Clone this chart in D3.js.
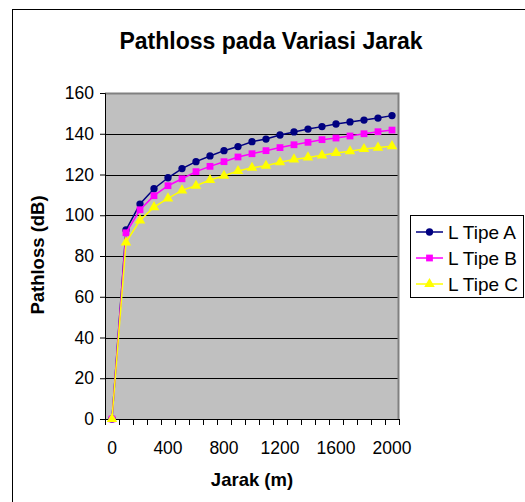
<!DOCTYPE html>
<html>
<head>
<meta charset="utf-8">
<script src="https://cdn.jsdelivr.net/npm/d3@7"></script>
<style>
  body { margin: 0; background: #fff; }
  text { font-family: "Liberation Sans", Arial, sans-serif; }
</style>
</head>
<body>
<div id="chart"></div>
<script>
// jarak (m)
const jarak = [0, 100, 200, 300, 400, 500, 600, 700, 800, 900, 1000,
               1100, 1200, 1300, 1400, 1500, 1600, 1700, 1800, 1900, 2000];
// pathloss (dB) per tipe
const tipeA = [0, 92.8, 105.5, 113.0, 118.4, 122.9, 126.3, 129.1, 131.7, 133.7, 136.1,
               137.4, 139.4, 140.9, 142.3, 143.5, 144.8, 145.8, 146.7, 147.7, 148.9];
const tipeB = [0, 91.4, 102.7, 109.6, 114.5, 117.9, 121.4, 124.0, 126.3, 128.6, 130.2,
               131.7, 133.2, 134.6, 135.8, 137.1, 137.9, 138.9, 140.0, 141.0, 141.8];
const tipeC = [0, 86.7, 97.5, 104.0, 108.3, 112.2, 114.5, 117.3, 119.4, 121.7, 123.3,
               124.3, 126.0, 127.4, 128.4, 129.4, 130.6, 131.4, 132.5, 133.2, 133.9];
const yTicks = [0, 20, 40, 60, 80, 100, 120, 140, 160];
const xLabels = [0, 400, 800, 1200, 1600, 2000];

const series = [
  { name: "L Tipe A", values: tipeA, color: "#000080", shape: "circle" },
  { name: "L Tipe B", values: tipeB, color: "#FF00FF", shape: "square" },
  { name: "L Tipe C", values: tipeC, color: "#FFFF00", shape: "triangle" }
];

const W = 525, H = 502;
const margin = { top: 93, right: 126, bottom: 83, left: 105 };
const width = W - margin.left - margin.right;
const height = H - margin.top - margin.bottom;

const svg = d3.select("#chart").append("svg")
    .attr("width", W)
    .attr("height", H);

// chart frame (runs off the right and bottom)
svg.append("rect")
    .attr("x", 12.5).attr("y", 9.5)
    .attr("width", 600).attr("height", 600)
    .attr("fill", "#fff")
    .attr("stroke", "#000");

svg.append("text")
    .attr("x", 271).attr("y", 49)
    .attr("text-anchor", "middle")
    .style("font-size", "23px").style("font-weight", "bold")
    .text("Pathloss pada Variasi Jarak");

const g = svg.append("g")
    .attr("transform", "translate(" + margin.left + "," + margin.top + ")");

const x = d3.scaleBand().domain(jarak).range([0, width]).padding(0);
const y = d3.scaleLinear().domain([0, 160]).range([height, 0]);
const cx = d => x(d) + x.bandwidth() / 2;

// plot area
g.append("rect")
    .attr("width", width).attr("height", height)
    .attr("fill", "#C0C0C0");

// gridlines
g.selectAll(".grid").data(yTicks.filter(t => t > 0 && t < 160)).enter()
  .append("line")
    .attr("x1", 0).attr("x2", width)
    .attr("y1", d => Math.round(y(d)) + 0.5).attr("y2", d => Math.round(y(d)) + 0.5)
    .attr("stroke", "#000");

// top and right border
g.append("path")
    .attr("d", "M0,0.5H" + (width - 0.5) + "V" + height)
    .attr("fill", "none").attr("stroke", "#808080").attr("stroke-width", 2);

// y axis
const yAxis = g.append("g")
    .call(d3.axisLeft(y).tickValues(yTicks).tickSize(5).tickPadding(6));
yAxis.select(".domain").attr("stroke", "#000");
yAxis.selectAll("text").style("font-size", "17.5px").attr("fill", "#000")
    .style("font-family", "'Liberation Sans', Arial, sans-serif");

// x axis (category axis, ticks between categories)
const xg = g.append("g").attr("transform", "translate(0," + height + ")");
xg.append("line").attr("x1", 0).attr("x2", width).attr("y1", 0.5).attr("y2", 0.5).attr("stroke", "#000");
const edges = jarak.map(d => x(d)).concat([width]);
xg.selectAll(".tk").data(edges).enter().append("line")
    .attr("x1", d => Math.round(d) + 0.5).attr("x2", d => Math.round(d) + 0.5)
    .attr("y1", 0).attr("y2", 6)
    .attr("stroke", "#000");
xg.selectAll(".lbl").data(xLabels).enter().append("text")
    .attr("x", d => cx(d))
    .attr("y", 35)
    .attr("text-anchor", "middle")
    .style("font-size", "17.5px")
    .text(d => d);

// axis titles
svg.append("text")
    .attr("x", 252).attr("y", 486)
    .attr("text-anchor", "middle")
    .style("font-size", "18.5px").style("font-weight", "bold")
    .text("Jarak (m)");

svg.append("text")
    .attr("transform", "translate(44,255) rotate(-90)")
    .attr("text-anchor", "middle")
    .style("font-size", "18.5px").style("font-weight", "bold")
    .text("Pathloss (dB)");

const symbolFor = s => s === "circle" ? d3.symbol(d3.symbolCircle, 42)
    : s === "square" ? d3.symbol(d3.symbolSquare, 46)
    : d3.symbol(d3.symbolTriangle, 48);

const line = d3.line().x((v, i) => cx(jarak[i])).y(v => y(v));

series.forEach(s => {
  g.append("path")
      .datum(s.values)
      .attr("d", line)
      .attr("fill", "none")
      .attr("stroke", s.color)
      .attr("stroke-width", 1.5);
  g.selectAll(".m-" + s.shape).data(s.values).enter().append("path")
      .attr("transform", (v, i) => "translate(" + cx(jarak[i]) + "," + y(v) + ")")
      .attr("d", symbolFor(s.shape))
      .attr("fill", s.color);
});

// legend
const lg = svg.append("g").attr("transform", "translate(410,215)");
lg.append("rect")
    .attr("x", 0.5).attr("y", 0.5).attr("width", 113).attr("height", 82)
    .attr("fill", "#fff").attr("stroke", "#000");
series.forEach((s, i) => {
  const yy = 17 + i * 26;
  lg.append("line").attr("x1", 6).attr("x2", 33).attr("y1", yy).attr("y2", yy)
      .attr("stroke", s.color).attr("stroke-width", 1.5);
  lg.append("path").attr("transform", "translate(19.5," + yy + ")")
      .attr("d", symbolFor(s.shape)).attr("fill", s.color);
  lg.append("text").attr("x", 38).attr("y", yy + 6.5)
      .style("font-size", "19px").text(s.name);
});
</script>
</body>
</html>
